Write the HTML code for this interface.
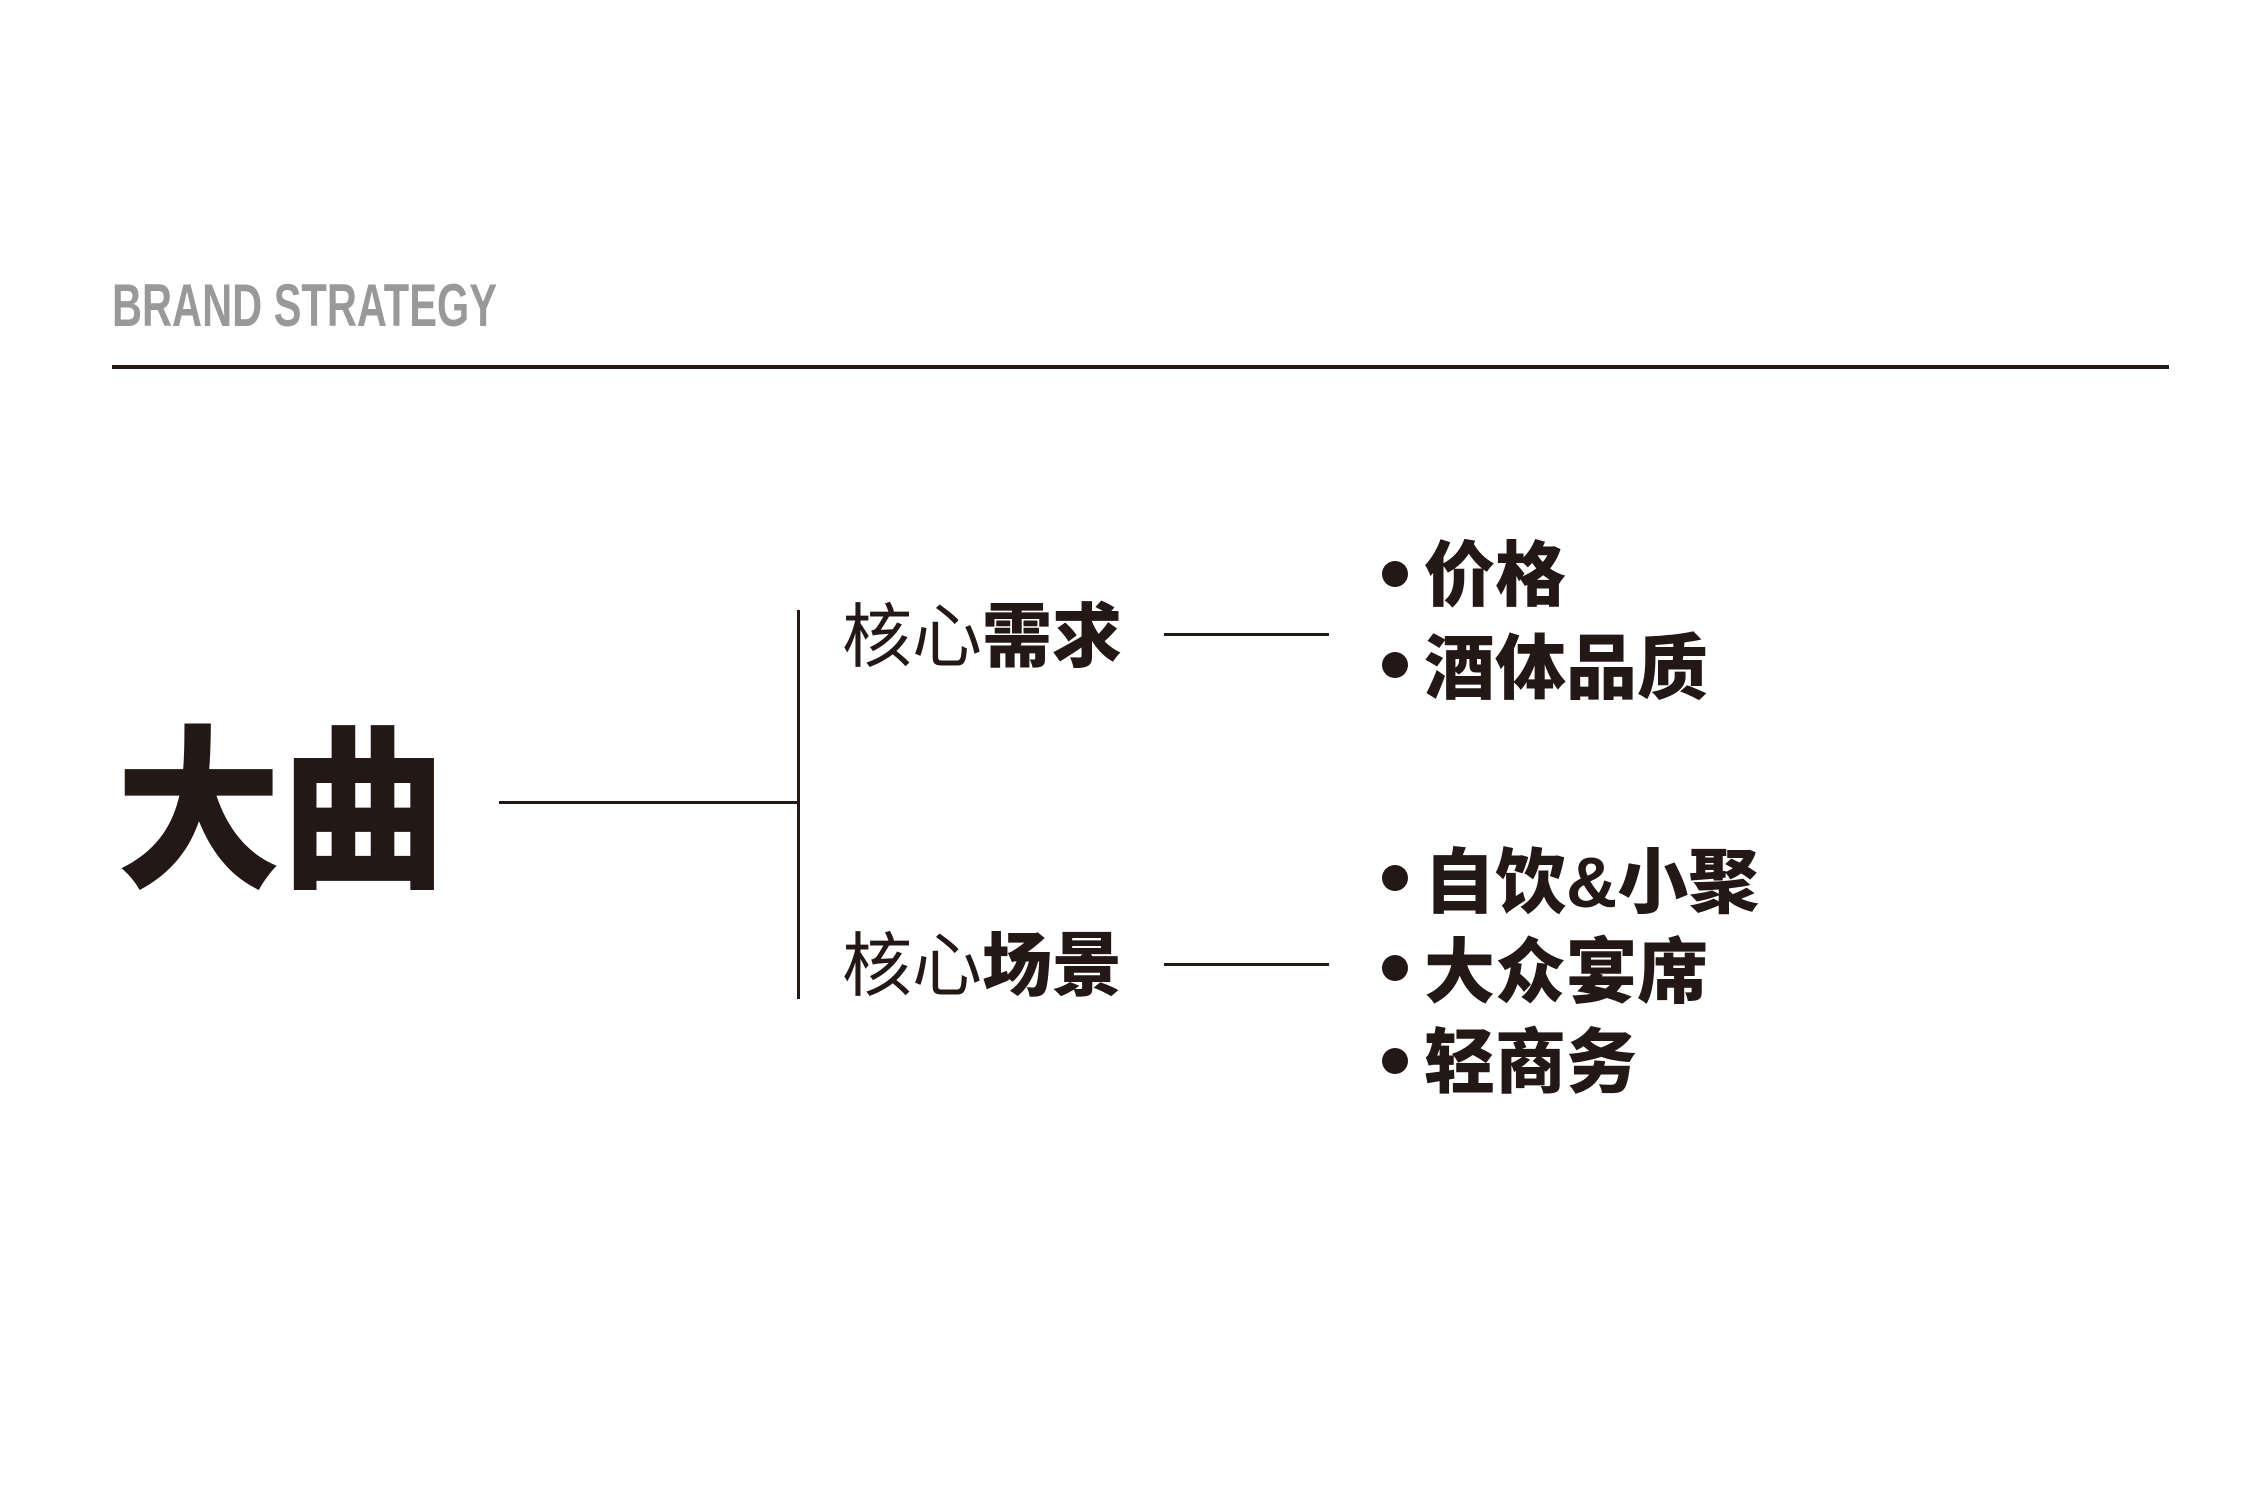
<!DOCTYPE html>
<html><head><meta charset="utf-8"><style>
html,body{margin:0;padding:0;background:#fff;}
svg{display:block}
.cjk{font-family:"Liberation Sans","Noto Sans CJK SC",sans-serif;fill:#231815}
</style></head><body>
<svg width="2250" height="1499" viewBox="0 0 2250 1499" xmlns="http://www.w3.org/2000/svg">
<text x="112" y="326" font-family="Liberation Sans, sans-serif" font-weight="bold" font-size="60" fill="#999" textLength="385" lengthAdjust="spacingAndGlyphs">BRAND STRATEGY</text>
<rect x="112" y="365" width="2057" height="4" fill="#231815"/>
<text class="cjk" x="116" y="874" font-size="176" font-weight="900" textLength="330" lengthAdjust="spacingAndGlyphs">大曲</text>
<rect x="499" y="801" width="300" height="3" fill="#231815"/>
<rect x="797" y="610" width="3" height="389" fill="#231815"/>
<text class="cjk" x="842" y="661" font-size="70"><tspan font-weight="400">核心</tspan><tspan font-weight="900">需求</tspan></text>
<text class="cjk" x="842" y="990" font-size="70"><tspan font-weight="400">核心</tspan><tspan font-weight="900">场景</tspan></text>
<rect x="1164" y="633" width="165" height="3" fill="#231815"/>
<rect x="1164" y="963" width="165" height="3" fill="#231815"/>
<g fill="#231815">
<circle cx="1395" cy="574" r="13"/>
<circle cx="1395" cy="665" r="13"/>
<circle cx="1395" cy="878" r="13"/>
<circle cx="1395" cy="968" r="13"/>
<circle cx="1395" cy="1061" r="13"/>
</g>
<g class="cjk" font-size="71" font-weight="900">
<text x="1424" y="600">价格</text>
<text x="1424" y="693">酒体品质</text>
<text x="1424" y="907">自饮&amp;小聚</text>
<text x="1424" y="997">大众宴席</text>
<text x="1424" y="1087">轻商务</text>
</g>
</svg>
</body></html>
